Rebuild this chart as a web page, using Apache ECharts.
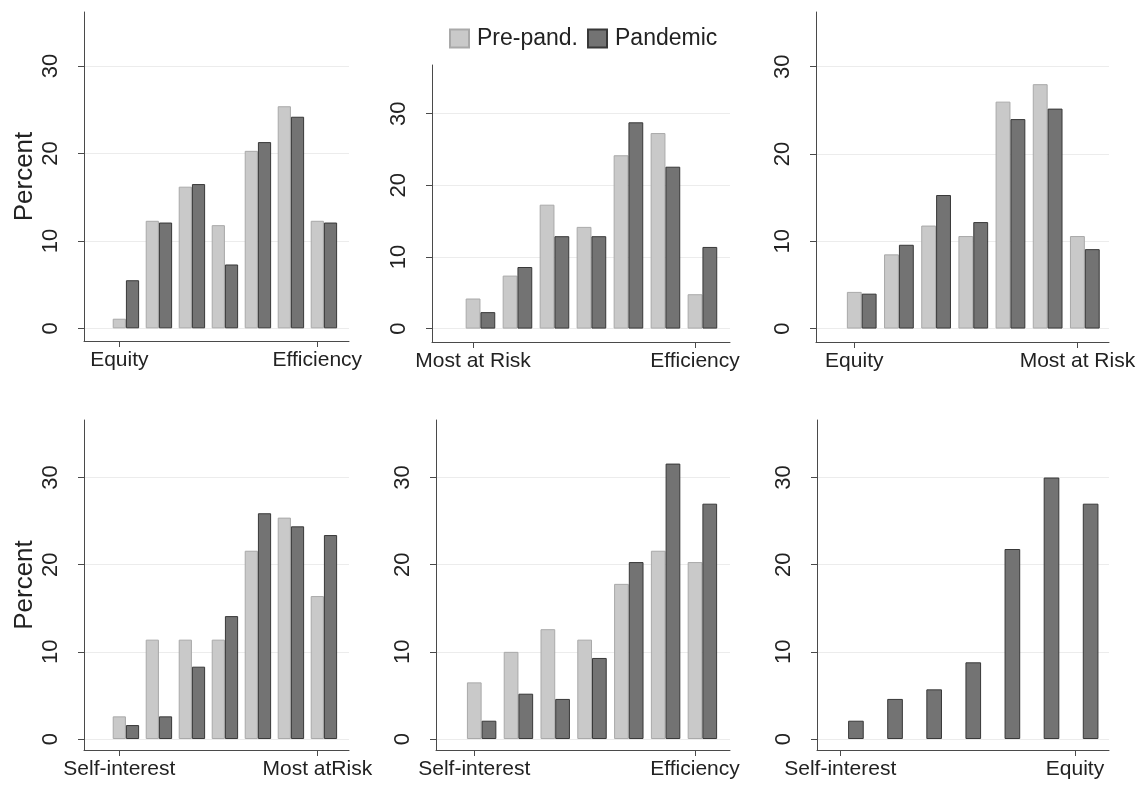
<!DOCTYPE html>
<html><head><meta charset="utf-8">
<script src="https://cdn.jsdelivr.net/npm/echarts@6/dist/echarts.min.js"></script>
<style>html,body{margin:0;padding:0;background:#fff}#c{width:1143px;height:785px}</style>
</head><body><div id="c"></div>
<script>
// ---- data ----
const positions = [1, 2, 3, 4, 5, 6, 7];
const seriesNames = ['Pre-pand.', 'Pandemic'];
const yTicks = [0, 10, 20, 30];

const labels1 = ['Equity', 'Efficiency'];
const labels2 = ['Most at Risk', 'Efficiency'];
const labels3 = ['Equity', 'Most at Risk'];
const labels4 = ['Self-interest', 'Most atRisk'];
const labels5 = ['Self-interest', 'Efficiency'];
const labels6 = ['Self-interest', 'Equity'];

const pre1 = [1.1, 12.3, 16.2, 11.8, 20.3, 25.4, 12.3];
const pan1 = [5.5, 12.1, 16.5, 7.3, 21.3, 24.2, 12.1];
const pre2 = [4.2, 7.4, 17.3, 14.2, 24.2, 27.3, 4.8];
const pan2 = [2.3, 8.6, 12.9, 12.9, 28.8, 22.6, 11.4];
const pre3 = [4.2, 8.5, 11.8, 10.6, 26.0, 28.0, 10.6];
const pan3 = [4.0, 9.6, 15.3, 12.2, 24.0, 25.2, 9.1];
const pre4 = [2.6, 11.4, 11.4, 11.4, 21.6, 25.4, 16.4];
const pan4 = [1.6, 2.6, 8.3, 14.1, 25.9, 24.4, 23.4];
const pre5 = [6.5, 10.0, 12.6, 11.4, 17.8, 21.6, 20.3];
const pan5 = [2.1, 5.2, 4.6, 9.3, 20.3, 31.6, 27.0];
const pre6 = [];
const pan6 = [2.1, 4.6, 5.7, 8.8, 21.8, 30.0, 27.0];

// ---- layout ----
const FONT = '"Liberation Sans", Arial, sans-serif';
const TXT = '#222';
const AX = '#4a4a4a';
const panels = [
  {pre: pre1, pan: pan1, labels: labels1, grid: {left: 84, top: 12, width: 265, height: 329}, x: [-0.27, 7.76], y: [-1.45, 36.18], title: true},
  {pre: pre2, pan: pan2, labels: labels2, grid: {left: 432, top: 65, width: 298, height: 277}, x: [-0.31, 7.745], y: [-1.87, 36.8], title: false},
  {pre: pre3, pan: pan3, labels: labels3, grid: {left: 816, top: 12, width: 293, height: 330}, x: [-0.23, 7.65], y: [-1.54, 36.27], title: false},
  {pre: pre4, pan: pan4, labels: labels4, grid: {left: 84, top: 420, width: 265, height: 330}, x: [-0.27, 7.76], y: [-1.26, 36.6], title: true},
  {pre: pre5, pan: pan5, labels: labels5, grid: {left: 436, top: 420, width: 294, height: 330}, x: [-0.24, 7.75], y: [-1.26, 36.6], title: false},
  {pre: pre6, pan: pan6, labels: labels6, grid: {left: 817, top: 420, width: 292, height: 330}, x: [0.205, 7.67], y: [-1.26, 36.6], title: false}
];
const tickPos = [positions[0] - 0.2, positions[positions.length - 1] - 0.2];

const grids = [], xAxes = [], yAxes = [], series = [];
panels.forEach((p, k) => {
  grids.push(Object.assign({outerBoundsMode: 'none', containLabel: false}, p.grid));
  xAxes.push({
    type: 'value', gridIndex: k, min: p.x[0], max: p.x[1],
    axisLine: {show: true, onZero: false, lineStyle: {color: AX, width: 1}},
    axisTick: {show: true, customValues: tickPos, length: 6, lineStyle: {color: AX}},
    axisLabel: {customValues: tickPos, margin: 9, fontSize: 21, color: TXT, fontFamily: FONT,
      formatter: v => (v < 4 ? p.labels[0] : p.labels[1])},
    splitLine: {show: false}
  });
  yAxes.push({
    type: 'value', gridIndex: k, min: p.y[0], max: p.y[1],
    name: p.title ? 'Percent' : '', nameLocation: 'middle', nameGap: 46,
    nameTextStyle: {fontSize: 26, color: TXT, fontFamily: FONT},
    axisLine: {show: true, onZero: false, lineStyle: {color: AX, width: 1}},
    axisTick: {show: true, customValues: yTicks, length: 6, lineStyle: {color: AX}},
    axisLabel: {customValues: yTicks, rotate: 90, margin: 22, fontSize: 22, color: TXT, fontFamily: FONT},
    splitLine: {show: true, lineStyle: {color: '#ececec', width: 1}}
  });
  series.push({
    type: 'bar', name: seriesNames[0], xAxisIndex: k, yAxisIndex: k,
    barWidth: '40%', barGap: '0%',
    itemStyle: {color: '#c9c9c9', borderColor: '#a9a9a9', borderWidth: 1},
    data: p.pre.map((v, i) => [positions[i], v])
  });
  series.push({
    type: 'bar', name: seriesNames[1], xAxisIndex: k, yAxisIndex: k,
    barWidth: '40%', barGap: '0%',
    itemStyle: {color: '#737373', borderColor: '#383838', borderWidth: 1},
    data: p.pan.map((v, i) => [positions[i], v])
  });
});

const chart = echarts.init(document.getElementById('c'), null, {renderer: 'canvas'});
chart.setOption({
  animation: false,
  backgroundColor: '#fff',
  legend: {
    data: seriesNames, left: 449, top: 27, padding: 0, itemGap: 9,
    itemWidth: 19, itemHeight: 18, icon: 'rect',
    textStyle: {fontSize: 23, color: TXT, fontFamily: FONT, padding: [0, 0, 0, 3]}
  },
  grid: grids, xAxis: xAxes, yAxis: yAxes, series: series
});
</script></body></html>
